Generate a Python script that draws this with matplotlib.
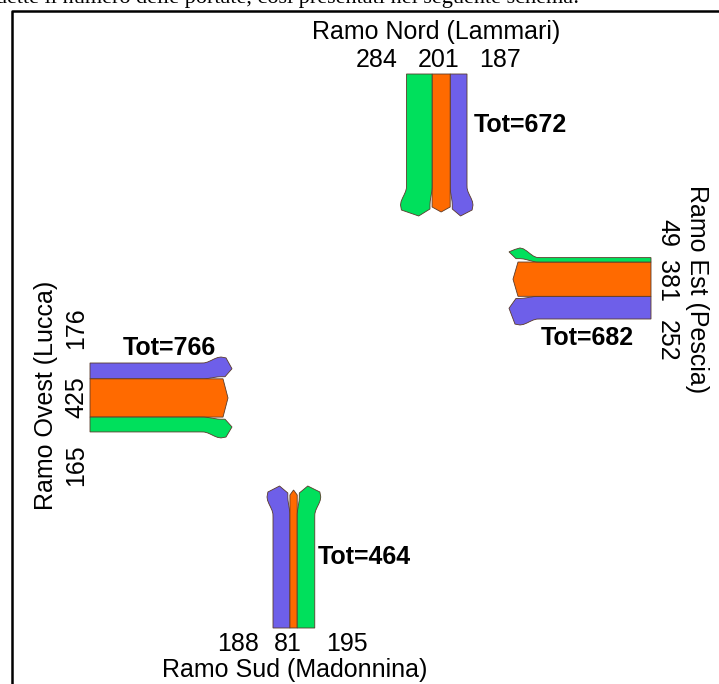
import numpy as np
import matplotlib.pyplot as plt
from matplotlib.patches import Polygon

# flussi per ramo: svolta a sinistra, dritto, svolta a destra
rami = ["Ramo Nord (Lammari)", "Ramo Est (Pescia)", "Ramo Ovest (Lucca)", "Ramo Sud (Madonnina)"]
svolta_sx = [187, 252, 176, 188]
dritto = [201, 381, 425, 81]
svolta_dx = [284, 49, 165, 195]

col_sx = "#6e5fe9"
col_dr = "#ff6a00"
col_dx = "#00e05c"

scala = 0.09   # px per veicolo
L = 133        # lunghezza del ramo (px)

# origine (bordo sinistro del conducente), direzione del moto, destra del conducente
geom = {
    "Ramo Nord (Lammari)": ((467, 74), (0, 1), (-1, 0)),
    "Ramo Est (Pescia)": ((651, 319), (-1, 0), (0, -1)),
    "Ramo Ovest (Lucca)": ((90, 363), (1, 0), (0, 1)),
    "Ramo Sud (Madonnina)": ((273, 628), (0, -1), (1, 0)),
}


def smooth(t):
    t = np.clip(t, 0, 1)
    return t * t * (3 - 2 * t)


def band_shape(va, vb, s):
    """contorno di una fascia in coordinate locali (u lungo il moto, v verso destra)"""
    w = vb - va
    mid = (va + vb) / 2
    if s == 0:
        return [(0, va), (L, va), (L + 5, mid), (L, vb), (0, vb)]
    D = 6 + max(0, 9 - w) * 0.8
    outer, inner = (va, vb) if s < 0 else (vb, va)
    u = np.linspace(0, L - 2, 40)
    off = s * D * smooth((u - (L - 20)) / 18)
    out_edge = [(a, outer + o) for a, o in zip(u, off)]
    in_edge = [(a, inner + 0.35 * o) for a, o in zip(u, off)]
    tip_v = mid + s * D * max(0.1, 1 - w / 25)
    cap = [(L + 3, outer + s * D * 0.85), (L + 9, tip_v), (L + 2, inner + s * D * 0.35)]
    return out_edge + cap + in_edge[::-1]


fig = plt.figure(figsize=(7.19, 6.84), dpi=100)
ax = fig.add_axes([0, 0, 1, 1])
ax.set_xlim(0, 719)
ax.set_ylim(684, 0)
ax.axis("off")

for i, r in enumerate(rami):
    (ox, oy), d, rt = geom[r]
    flussi = [svolta_sx[i], dritto[i], svolta_dx[i]]
    colori = [col_sx, col_dr, col_dx]
    segni = [-1, 0, 1]
    v0 = 0
    for f, c, s in zip(flussi, colori, segni):
        v1 = v0 + f * scala
        pts = band_shape(v0, v1, s)
        xy = [(ox + u * d[0] + v * rt[0], oy + u * d[1] + v * rt[1]) for u, v in pts]
        ax.add_patch(Polygon(xy, closed=True, facecolor=c, edgecolor="#5a3a2a", lw=0.6))
        v0 = v1

font = dict(family="Liberation Sans", fontsize=18)
bold = dict(family="Liberation Sans", fontsize=18, fontweight="bold")
tot = [a + b + c for a, b, c in zip(svolta_sx, dritto, svolta_dx)]

# Nord
ax.text(436, 32, rami[0], ha="center", va="center", **font)
for x, val in zip([377, 439, 500], [svolta_dx[0], dritto[0], svolta_sx[0]]):
    ax.text(x, 60, str(val), ha="center", va="center", **font)
ax.text(474, 125, f"Tot={tot[0]}", ha="left", va="center", **bold)

# Est
ax.text(697, 289, rami[1], ha="center", va="center", rotation=-90, **font)
for y, val in zip([233, 281, 341], [svolta_dx[1], dritto[1], svolta_sx[1]]):
    ax.text(667, y, str(val), ha="center", va="center", rotation=-90, **font)
ax.text(541, 338, f"Tot={tot[1]}", ha="left", va="center", **bold)

# Ovest
ax.text(46, 395, rami[2], ha="center", va="center", rotation=90, **font)
for y, val in zip([328, 397, 465], [svolta_sx[2], dritto[2], svolta_dx[2]]):
    ax.text(76, y, str(val), ha="center", va="center", rotation=90, **font)
ax.text(123, 348, f"Tot={tot[2]}", ha="left", va="center", **bold)

# Sud
ax.text(295, 670, rami[3], ha="center", va="center", **font)
for x, val in zip([238, 288, 347], [svolta_sx[3], dritto[3], svolta_dx[3]]):
    ax.text(x, 644, str(val), ha="center", va="center", **font)
ax.text(318, 557, f"Tot={tot[3]}", ha="left", va="center", **bold)

# riga di testo del documento, tagliata in alto come nell'originale
ax.text(-4, 3, "dette il numero delle portate, così presentati nel seguente schema:",
        ha="left", va="baseline", family="Liberation Serif", fontsize=16, clip_on=True)

# cornice
ax.plot([12, 12, 719], [684, 11, 11], color="black", lw=1.8, solid_capstyle="butt")

fig.savefig("out.png", dpi=100)
